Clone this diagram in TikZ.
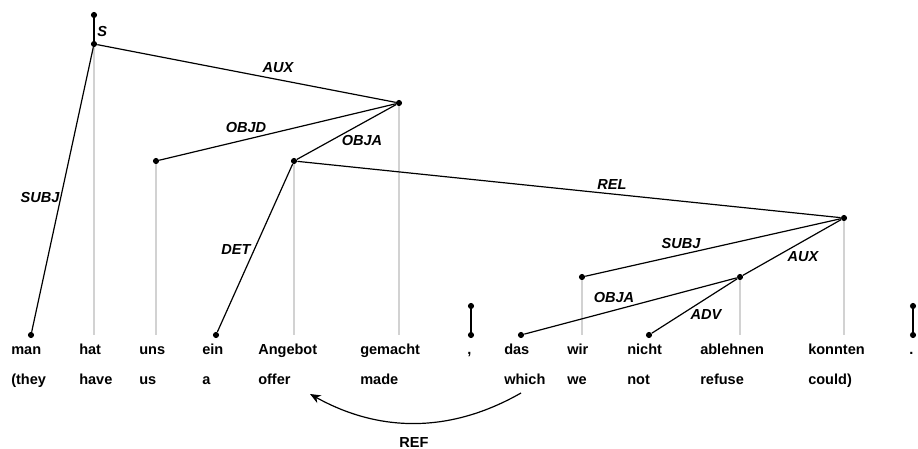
\documentclass[tikz,border=0pt]{standalone}
\usepackage{fontspec}
\setmainfont{Liberation Sans}
\usetikzlibrary{arrows.meta}

\begin{document}
\begin{tikzpicture}[
          x=0.75pt, y=-0.75pt,
          dot/.style={circle, fill, inner sep=0pt, minimum size=4.6pt},
          edge/.style={line width=0.9pt},
          proj/.style={line width=0.9pt, gray!35},
          word/.style={font=\fontsize{10.9}{13}\selectfont\bfseries, anchor=base west, inner sep=0pt},
          lbl/.style={font=\fontsize{10.9}{13}\selectfont\bfseries\itshape, inner sep=0pt}
      ]
        \useasboundingbox (0,0) rectangle (918,449);
        \node[dot] (n-top) at (94,15) {};
        \node[dot] (n-hat) at (94,44) {};
        \node[dot] (n-gemacht) at (399,103) {};
        \node[dot] (n-uns) at (156,161) {};
        \node[dot] (n-angebot) at (294,161) {};
        \node[dot] (n-konnten) at (844,218) {};
        \node[dot] (n-wir) at (582,277) {};
        \node[dot] (n-ablehnen) at (740,277) {};
        \node[dot] (n-man) at (31,335) {};
        \node[dot] (n-ein) at (216,335) {};
        \node[dot] (n-das) at (521,335) {};
        \node[dot] (n-nicht) at (649,335) {};
        \node[dot] (n-komma-top) at (471,306) {};
        \node[dot] (n-komma) at (471,335) {};
        \node[dot] (n-punkt-top) at (913,306) {};
        \node[dot] (n-punkt) at (913,335) {};
        \coordinate (f-hat) at (94,335);
        \coordinate (f-uns) at (156,335);
        \coordinate (f-angebot) at (294,335);
        \coordinate (f-gemacht) at (399,335);
        \coordinate (f-wir) at (582,335);
        \coordinate (f-ablehnen) at (740,335);
        \coordinate (f-konnten) at (844,335);
        \draw[proj] (n-hat) -- (f-hat);
        \draw[proj] (n-uns) -- (f-uns);
        \draw[proj] (n-angebot) -- (f-angebot);
        \draw[proj] (n-gemacht) -- (f-gemacht);
        \draw[proj] (n-wir) -- (f-wir);
        \draw[proj] (n-ablehnen) -- (f-ablehnen);
        \draw[proj] (n-konnten) -- (f-konnten);
        \draw[edge] (n-top) -- (n-hat);
        \draw[edge] (n-hat) -- (n-man);
        \draw[edge] (n-hat) -- (n-gemacht);
        \draw[edge] (n-gemacht) -- (n-uns);
        \draw[edge] (n-gemacht) -- (n-angebot);
        \draw[edge] (n-angebot) -- (n-ein);
        \draw[edge] (n-angebot) -- (n-konnten);
        \draw[edge] (n-konnten) -- (n-wir);
        \draw[edge] (n-konnten) -- (n-ablehnen);
        \draw[edge] (n-ablehnen) -- (n-das);
        \draw[edge] (n-ablehnen) -- (n-nicht);
        \draw[edge] (n-komma-top) -- (n-komma);
        \draw[edge] (n-punkt-top) -- (n-punkt);
        \node[lbl, anchor=base west] (l-s) at (97,37) {S};
        \node[lbl] (l-subj) at (40,197) {SUBJ};
        \node[lbl] (l-aux) at (278,68) {AUX};
        \node[lbl] (l-objd) at (246,127) {OBJD};
        \node[lbl] (l-obja) at (362,140) {OBJA};
        \node[lbl] (l-det) at (236,250) {DET};
        \node[lbl] (l-rel) at (612,185) {REL};
        \node[lbl] (l-subj2) at (681,243) {SUBJ};
        \node[lbl] (l-aux2) at (803,257) {AUX};
        \node[lbl] (l-obja2) at (614,297) {OBJA};
        \node[lbl] (l-adv) at (706,314) {ADV};
        \node[word] (w-man) at (11,354) {man};
        \node[word] (w-hat) at (79,354) {hat};
        \node[word] (w-uns) at (139,354) {uns};
        \node[word] (w-ein) at (202,354) {ein};
        \node[word] (w-angebot) at (258,354) {Angebot};
        \node[word] (w-gemacht) at (360,354) {gemacht};
        \node[word] (w-komma) at (467,354) {,};
        \node[word] (w-das) at (504,354) {das};
        \node[word] (w-wir) at (567,354) {wir};
        \node[word] (w-nicht) at (627,354) {nicht};
        \node[word] (w-ablehnen) at (700,354) {ablehnen};
        \node[word] (w-konnten) at (808,354) {konnten};
        \node[word] (w-punkt) at (909,354) {.};
        \node[word] (g-they) at (11,384) {(they};
        \node[word] (g-have) at (79,384) {have};
        \node[word] (g-us) at (139,384) {us};
        \node[word] (g-a) at (202,384) {a};
        \node[word] (g-offer) at (258,384) {offer};
        \node[word] (g-made) at (360,384) {made};
        \node[word] (g-which) at (504,384) {which};
        \node[word] (g-we) at (567,384) {we};
        \node[word] (g-not) at (627,384) {not};
        \node[word] (g-refuse) at (700,384) {refuse};
        \node[word] (g-could) at (808,384) {could)};
        \coordinate (ref-from) at (521,393);
        \coordinate (ref-to) at (310,394);
        \draw[edge, -{Stealth[length=8pt, width=6.5pt, inset=2.5pt]}] (ref-from) .. controls (451,433) and (380,433) .. (ref-to);
        \node[word, anchor=base] (l-ref) at (414,447) {REF};
      \end{tikzpicture}
\end{document}
